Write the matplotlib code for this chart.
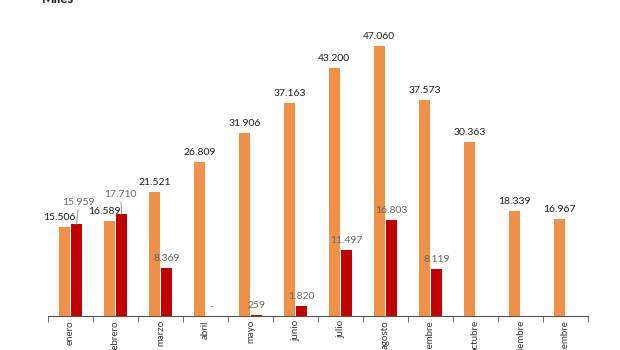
import numpy as np
import matplotlib
matplotlib.use("Agg")
import matplotlib.pyplot as plt

plt.rcParams["font.family"] = ["Lato", "DejaVu Sans"]

months = ["enero", "febrero", "marzo", "abril", "mayo", "junio", "julio",
          "agosto", "septiembre", "octubre", "noviembre", "diciembre"]
serie_a = [15506, 16589, 21521, 26809, 31906, 37163, 43200, 47060,
           37573, 30363, 18339, 16967]
serie_b = [15959, 17710, 8369, 0, 259, 1820, 11497, 16803, 8119,
           None, None, None]


def fmt(v):
    if v == 0:
        return "-"
    return f"{v:,}".replace(",", ".")


orange = "#F0914A"
red = "#C00000"

fig = plt.figure(figsize=(6.2, 3.5), dpi=100)
ax = fig.add_axes([48 / 620, 34 / 350, 540 / 620, 286 / 350])

x = np.arange(len(months))
w = 0.25
off = 0.135

ax.bar(x - off, serie_a, width=w, color=orange)
xb = [i for i, v in enumerate(serie_b) if v is not None]
vb = [serie_b[i] for i in xb]
ax.bar(np.array(xb) + off, vb, width=w, color=red)

# label offsets (pixels) for the crowded first months
shift_a = {0: (-5, 0), 1: (-5, 0)}
shift_b = {0: (2, 12), 1: (-1, 10)}

for i, v in enumerate(serie_a):
    dx, dy = shift_a.get(i, (0, 0))
    ax.annotate(fmt(v), (i - off, v), xytext=(dx, 5 + dy),
                textcoords="offset pixels", ha="center", va="bottom",
                fontsize=7.5, color="#1a1a1a")

for i, v in zip(xb, vb):
    dx, dy = shift_b.get(i, (0, 0))
    props = None
    if dy > 0:
        props = dict(arrowstyle="-", color="#7f7f7f", lw=0.6,
                     shrinkA=0, shrinkB=0)
    ax.annotate(fmt(v), (i + off, v), xytext=(dx, 5 + dy),
                textcoords="offset pixels", ha="center", va="bottom",
                fontsize=7.5, color="#666666", arrowprops=props)

ax.set_xlim(-0.5, len(months) - 0.5)
ax.set_ylim(0, 49830)

ax.set_xticks(x)
ax.set_xticklabels(months, rotation=90, fontsize=7, color="#333333")
ax.tick_params(axis="x", which="major", length=0, pad=3)
ax.set_xticks(np.arange(-0.5, len(months)), minor=True)
ax.tick_params(axis="x", which="minor", length=4, color="#555555", direction="out")
ax.set_yticks([])

for s in ["left", "right", "top"]:
    ax.spines[s].set_visible(False)
ax.spines["bottom"].set_color("#555555")
ax.spines["bottom"].set_linewidth(0.8)

fig.text(42 / 620, 1 - 3 / 350, "Miles", fontsize=9.5, fontweight="bold",
         va="baseline", ha="left", color="#1a1a1a")

fig.savefig("out.png", dpi=100)
